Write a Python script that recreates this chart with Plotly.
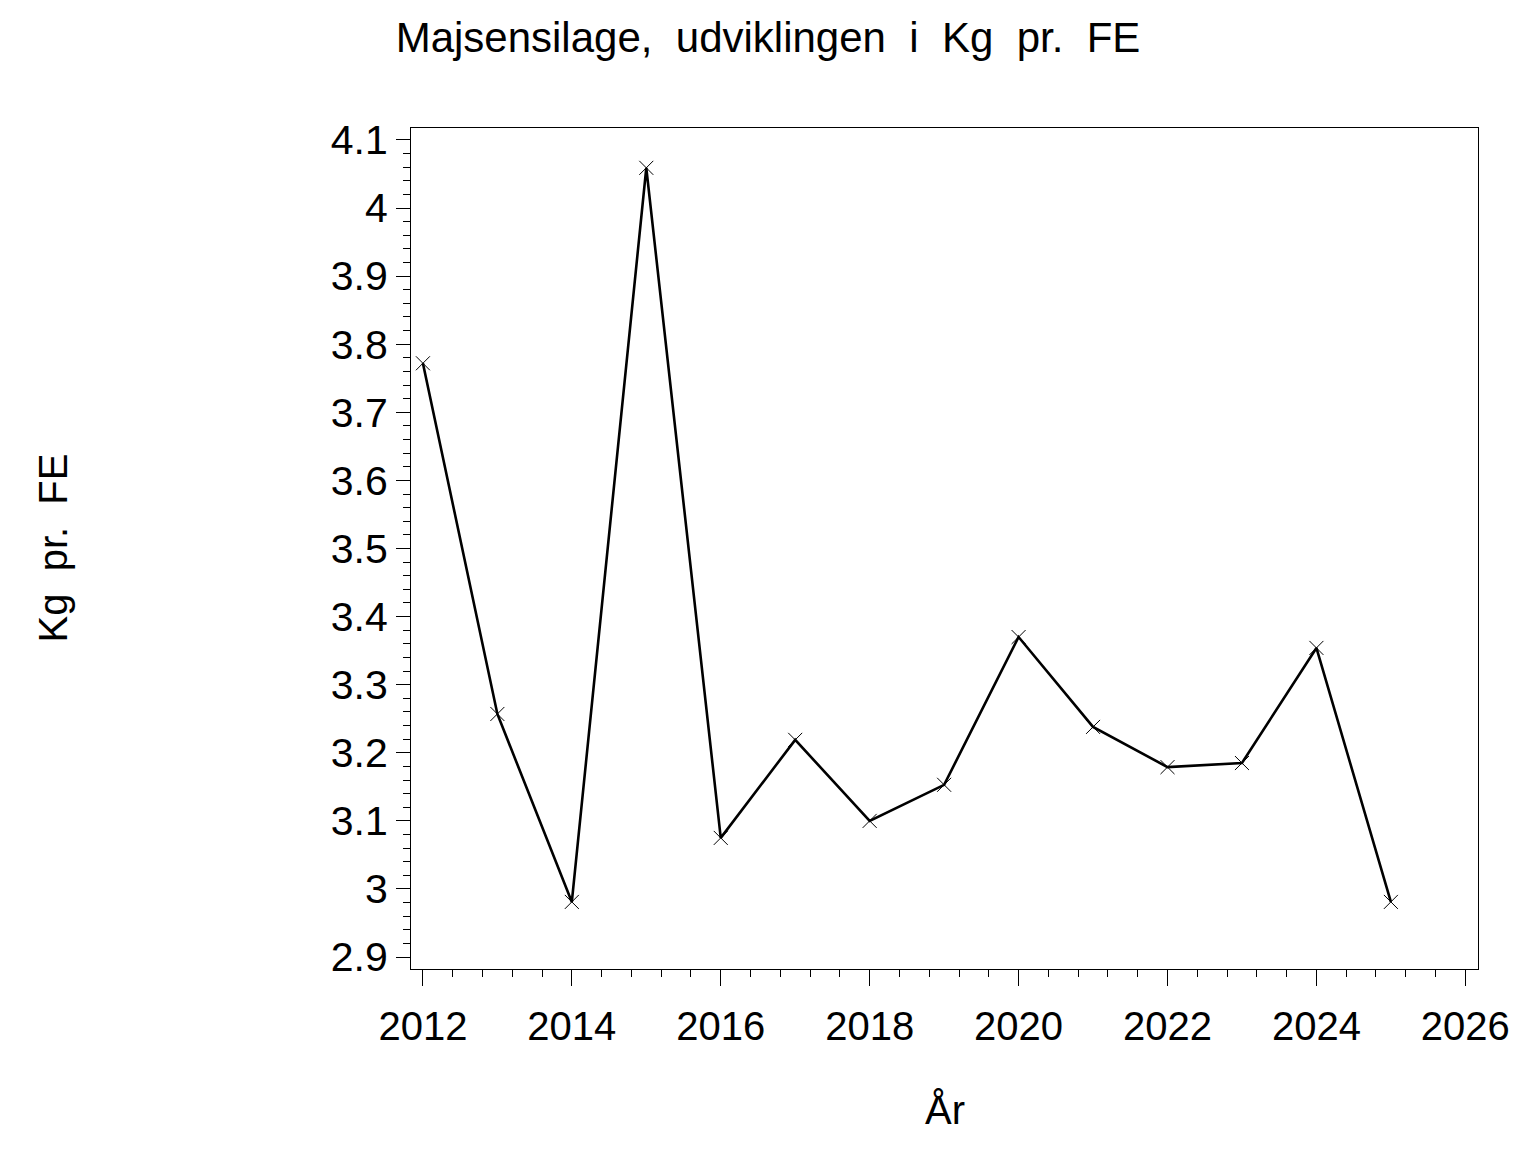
import plotly.graph_objects as go

years = [2012, 2013, 2014, 2015, 2016, 2017, 2018, 2019, 2020, 2021, 2022, 2023, 2024, 2025]
kg_pr_fe = [3.772, 3.257, 2.981, 4.059, 3.075, 3.219, 3.100, 3.153, 3.370, 3.238, 3.179, 3.185, 3.354, 2.981]

title_text = "Majsensilage,  udviklingen  i  Kg  pr.  FE"
x_title = "År"
y_title = "Kg  pr.  FE"
FONT = "Liberation Sans, Arial, sans-serif"

fig = go.Figure()
fig.add_trace(go.Scatter(
    x=years, y=kg_pr_fe, mode="lines+markers",
    line=dict(color="black", width=2.6),
    marker=dict(symbol="x-thin", size=14, line=dict(color="black", width=1)),
    showlegend=False,
))

fig.update_layout(
    width=1536, height=1152,
    margin=dict(l=403, r=66, t=120, b=191),
    paper_bgcolor="white", plot_bgcolor="white",
    font=dict(family=FONT, color="black", size=40),
    title=dict(text=title_text, x=760 / 1536, xref="container", xanchor="center",
               y=1 - 29 / 1152, yref="container", yanchor="middle",
               font=dict(size=42, family=FONT, color="black")),
    xaxis=dict(range=[2011.84, 2026.17], tick0=2012, dtick=2,
               showgrid=False, zeroline=False,
               showline=True, linecolor="black", linewidth=1, mirror=True,
               ticks="outside", ticklen=16, tickwidth=1, tickcolor="black",
               ticklabelstandoff=6,
               tickfont=dict(size=40, family=FONT),
               minor=dict(dtick=0.4, tick0=2012, ticks="outside", ticklen=7,
                          tickwidth=1, tickcolor="black", showgrid=False)),
    yaxis=dict(range=[2.8825, 4.1175], tick0=2.9, dtick=0.1,
               showgrid=False, zeroline=False,
               showline=True, linecolor="black", linewidth=1, mirror=True,
               ticks="outside", ticklen=14, tickwidth=1, tickcolor="black",
               ticklabelstandoff=0,
               tickfont=dict(size=41, family=FONT),
               minor=dict(dtick=0.02, tick0=2.9, ticks="outside", ticklen=7,
                          tickwidth=1, tickcolor="black", showgrid=False)),
    annotations=[
        dict(text=x_title, xref="paper", yref="paper", x=0.5, y=-(1110 - 969) / 841,
             xanchor="center", yanchor="middle", showarrow=False,
             font=dict(size=40, family=FONT)),
        dict(text=y_title, xref="paper", yref="paper", x=(52 - 411) / 1067, y=0.5,
             xanchor="center", yanchor="middle", showarrow=False, textangle=-90,
             font=dict(size=40, family=FONT)),
    ],
)

fig.write_html("out.html")
